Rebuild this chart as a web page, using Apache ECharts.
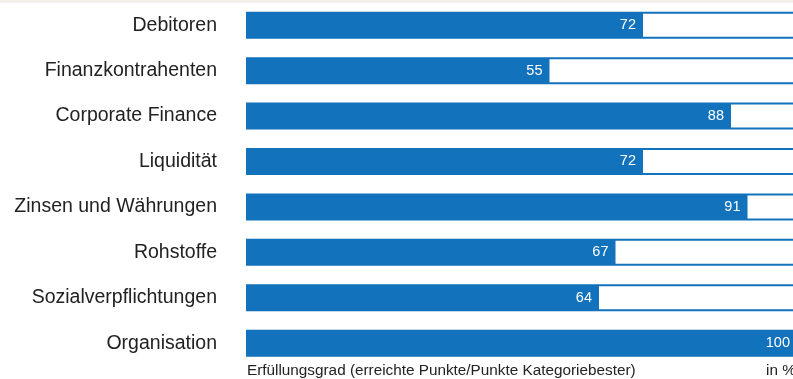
<!DOCTYPE html>
<html><head><meta charset="utf-8">
<script src="https://cdn.jsdelivr.net/npm/echarts@6/dist/echarts.min.js"></script>
<style>html,body{margin:0;padding:0;background:#fff}#c{width:793px;height:379px}</style>
</head><body><div id="c"></div>
<script>
const categories = ["Debitoren","Finanzkontrahenten","Corporate Finance","Liquidität","Zinsen und Währungen","Rohstoffe","Sozialverpflichtungen","Organisation"];
const values = [72,55,88,72,91,67,64,100];
const axisMax = 100;
const footLeft = "Erfüllungsgrad (erreichte Punkte/Punkte Kategoriebester)";
const footRight = "in %";

const chart = echarts.init(document.getElementById('c'), null, {renderer:'canvas'});
chart.setOption({
  animation:false,
  backgroundColor:'#fff',
  grid:{left:247, top:2.5, width:550, height:363.4, containLabel:false, outerBoundsMode:'none'},
  xAxis:{type:'value', min:0, max:axisMax, show:false},
  yAxis:{type:'category', data:categories, inverse:true,
    axisLine:{show:false}, axisTick:{show:false}, splitLine:{show:false},
    axisLabel:{margin:30, fontSize:19.5, color:'#222', fontFamily:'Liberation Sans, Arial, sans-serif'}},
  series:[{
    type:'bar', data:values, barWidth:25,
    itemStyle:{color:'#1372bc'},
    showBackground:true,
    backgroundStyle:{color:'#fff', borderColor:'#1372bc', borderWidth:2},
    label:{show:true, position:'insideRight', distance:7, color:'#fff', fontSize:14.5,
      fontFamily:'Liberation Sans, Arial, sans-serif'}
  }],
  graphic:[
    {type:'rect', left:0, top:0, shape:{width:793, height:3}, style:{fill:'#f2f1ea'}},
    {type:'text', left:247, top:363, style:{text:footLeft, fontSize:15.3, fill:'#222', fontFamily:'Liberation Sans, Arial, sans-serif'}},
    {type:'text', left:766, top:363, style:{text:footRight, fontSize:15.3, fill:'#222', fontFamily:'Liberation Sans, Arial, sans-serif'}}
  ]
});
</script></body></html>
